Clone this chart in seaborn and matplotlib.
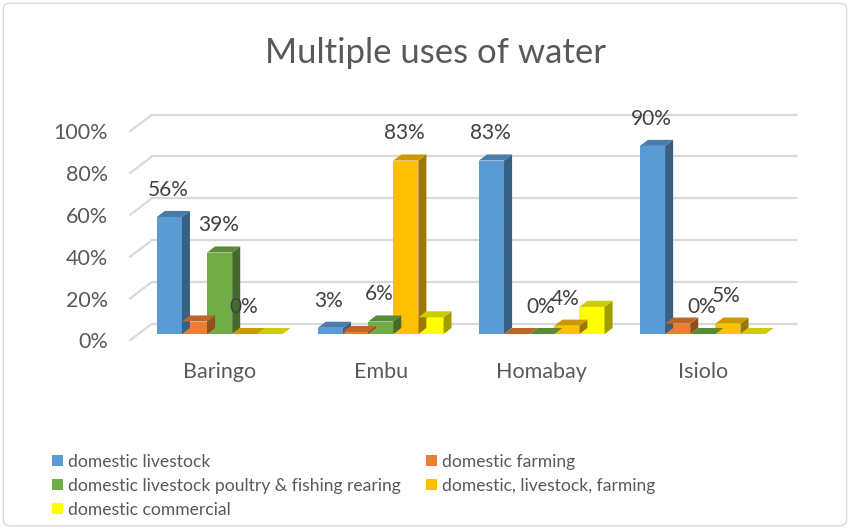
import numpy as np
import pandas as pd
import matplotlib
matplotlib.use("Agg")
import matplotlib.pyplot as plt
from matplotlib.patches import Polygon, FancyBboxPatch
import matplotlib.colors as mcolors
import seaborn as sns

# data
counties = ["Baringo", "Embu", "Homabay", "Isiolo"]
uses = [
    "domestic livestock",
    "domestic farming",
    "domestic livestock poultry & fishing rearing",
    "domestic, livestock, farming",
    "domestic commercial",
]
domestic_livestock = [56, 3, 83, 90]
domestic_farming = [6, 1, 0, 5]
livestock_poultry_fishing = [39, 6, 0, 0]
domestic_livestock_farming = [0, 83, 4, 5]
domestic_commercial = [0, 8, 13, 0]

# series that carry data labels
labelled = [0, 2, 3]
colors = ["#5B9BD5", "#ED7D31", "#70AD47", "#FFC000", "#FFFF00"]

series = [domestic_livestock, domestic_farming, livestock_poultry_fishing,
          domestic_livestock_farming, domestic_commercial]
df = pd.DataFrame({
    "county": np.repeat(counties, len(uses)),
    "use": uses * len(counties),
    "pct": [series[j][i] for i in range(len(counties)) for j in range(len(uses))],
})

sns.set_theme(style="white")
plt.rcParams["font.family"] = ["Lato", "DejaVu Sans"]
text_col = "#595959"

fig = plt.figure(figsize=(8.5, 5.29), dpi=100)
ax = fig.add_axes([0.153, 0.3527, 0.785, 0.411])

sns.barplot(data=df, x="county", y="pct", hue="use", hue_order=uses,
            palette=colors, order=counties, width=0.78, saturation=1,
            edgecolor="none", ax=ax, legend=True)

x0_lim, x1_lim = -0.556, 3.587
ax.set_ylim(-4, 100)
ax.set_xlim(x0_lim, x1_lim)

# ============================================
# fake 3D faces on every bar
# ============================================
dx, dy = 0.05, 2.9
for k, cont in enumerate(ax.containers):
    base = mcolors.to_rgb(colors[k])
    side = tuple(c * 0.62 for c in base)
    top = tuple(c * 0.8 for c in base)
    for b in cont.patches:
        x0, w, h = b.get_x(), b.get_width(), b.get_height()
        x1 = x0 + w
        ax.add_patch(Polygon([(x1, 0), (x1 + dx, dy), (x1 + dx, h + dy), (x1, h)],
                             closed=True, facecolor=side, edgecolor="none",
                             zorder=b.get_zorder(), clip_on=False))
        ax.add_patch(Polygon([(x0, h), (x0 + dx, h + dy), (x1 + dx, h + dy), (x1, h)],
                             closed=True, facecolor=top, edgecolor="none",
                             zorder=b.get_zorder(), clip_on=False))
    if k in labelled:
        for b, v in zip(cont.patches, series[k]):
            ax.annotate(f"{v}%", (b.get_x() + b.get_width() / 2, b.get_height() + dy),
                        xytext=(-1, 8), textcoords="offset points",
                        ha="center", va="bottom", fontsize=15, color="#404040",
                        zorder=10)

# back-wall gridlines with a slanted floor edge, labels at the front edge
ticks = np.arange(0, 101, 20)
front, back = -3, 5
slant = 0.137
ax.set_yticks(ticks + front)
ax.set_yticklabels([f"{t}%" for t in ticks], fontsize=15.5, color=text_col)
for t in ticks:
    ax.plot([x0_lim + slant, x1_lim], [t + back, t + back], color="#D9D9D9",
            lw=1.6, zorder=0, clip_on=False)
    ax.plot([x0_lim, x0_lim + slant], [t + front, t + back], color="#D9D9D9",
            lw=1.6, zorder=0, clip_on=False)

ax.tick_params(axis="y", pad=16, length=0)
ax.tick_params(axis="x", length=0, pad=14)
ax.set_xticks(range(len(counties)))
ax.set_xticklabels(counties, fontsize=15.5, color=text_col)
ax.set_xlabel("")
ax.set_ylabel("")
for s in ax.spines.values():
    s.set_visible(False)
ax.grid(False)

fig.suptitle("Multiple uses of water", x=0.512, y=0.93, fontsize=25, color=text_col)

# legend below, row-wise order like the original
handles, labels = ax.get_legend_handles_labels()
ax.get_legend().remove()
order = [0, 2, 4, 1, 3]
fig.legend([handles[i] for i in order], [labels[i] for i in order],
           loc="upper left", bbox_to_anchor=(0.043, 0.172), ncol=2,
           frameon=False, fontsize=12.6, handlelength=0.6, handleheight=0.6,
           handletextpad=0.3, columnspacing=1.45, labelspacing=0.45,
           labelcolor=text_col)

fig.patches.append(FancyBboxPatch((0.004, 0.006), 0.992, 0.988,
                                  boxstyle="round,pad=0,rounding_size=0.01",
                                  transform=fig.transFigure, facecolor="none",
                                  edgecolor="#D9D9D9", lw=1))

fig.savefig("out.png", dpi=100)
